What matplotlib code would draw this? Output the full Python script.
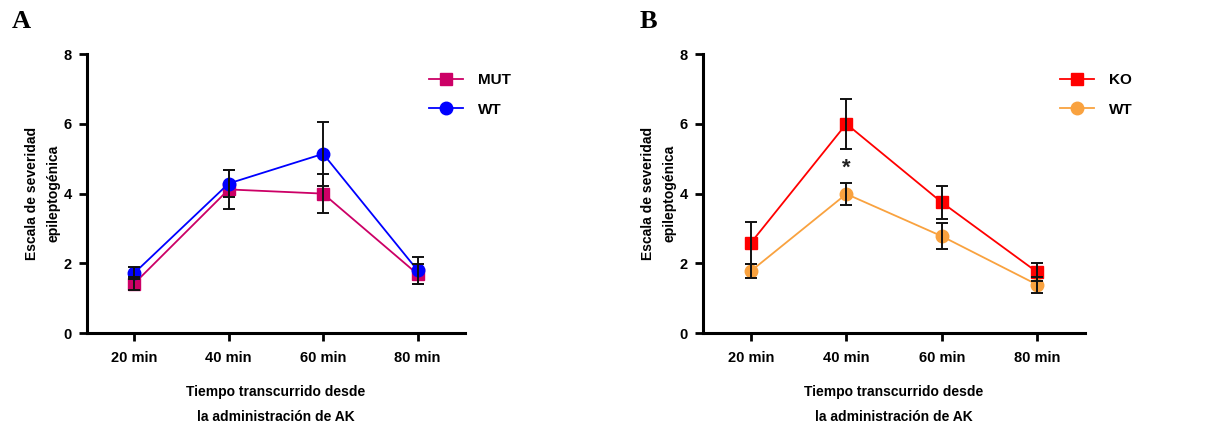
import matplotlib
matplotlib.use("Agg")
import matplotlib.pyplot as plt
import numpy as np

# ---- data ----
categories = ["20 min", "40 min", "60 min", "80 min"]

mut_mean = [1.42, 4.12, 4.00, 1.69]
mut_sem = [0.18, 0.55, 0.57, 0.28]
wtA_mean = [1.72, 4.29, 5.14, 1.80]
wtA_sem = [0.17, 0.40, 0.92, 0.38]

ko_mean = [2.59, 6.00, 3.75, 1.75]
ko_sem = [0.60, 0.71, 0.47, 0.25]
wtB_mean = [1.78, 3.99, 2.78, 1.39]
wtB_sem = [0.20, 0.32, 0.37, 0.23]

star_pos = (1, 4.72)

plt.rcParams["font.family"] = ["Liberation Sans", "DejaVu Sans"]
plt.rcParams["font.weight"] = "bold"

fig = plt.figure(figsize=(12.23, 4.26), dpi=100)
axA = fig.add_axes([0.0711, 0.218, 0.309, 0.655])
axB = fig.add_axes([0.575, 0.218, 0.312, 0.655])

x = np.arange(len(categories))


def draw_series(ax, mean, sem, color, marker, ms, label):
    ax.plot(x, mean, color=color, lw=1.3, marker=marker, ms=ms,
            markeredgecolor=color, label=label, zorder=3)
    ax.errorbar(x, mean, yerr=sem, fmt="none", ecolor="#111111",
                elinewidth=1.4, capsize=4, capthick=1.4, zorder=4)


def style_axes(ax):
    ax.set_xlim(-0.5, 3.5)
    ax.set_ylim(0, 8)
    ax.set_yticks([0, 2, 4, 6, 8])
    ax.set_xticks(x)
    ax.set_xticklabels(categories)
    for s in ["top", "right"]:
        ax.spines[s].set_visible(False)
    for s in ["left", "bottom"]:
        ax.spines[s].set_linewidth(2.2)
    ax.tick_params(axis="both", width=2.0, length=6, labelsize=10.5, pad=5)
    ax.tick_params(axis="x", pad=7)
    ax.set_ylabel("Escala de severidad\nepileptogénica", fontsize=10,
                  fontweight="bold", labelpad=2, linespacing=1.7)
    ax.set_xlabel("Tiempo transcurrido desde\nla administración de AK",
                  fontsize=10, fontweight="bold", labelpad=14, linespacing=2.0)
    for lab in ax.get_xticklabels() + ax.get_yticklabels():
        lab.set_fontweight("bold")


draw_series(axA, mut_mean, mut_sem, "#CC0066", "s", 8, "MUT")
draw_series(axA, wtA_mean, wtA_sem, "#0000FF", "o", 9, "WT")
draw_series(axB, ko_mean, ko_sem, "#FF0000", "s", 8, "KO")
draw_series(axB, wtB_mean, wtB_sem, "#F9A23F", "o", 9, "WT")

style_axes(axA)
style_axes(axB)

axB.text(star_pos[0], star_pos[1], "*", ha="center", va="center",
         fontsize=16, fontweight="bold", color="#222222")

for ax, anchor in [(axA, (0.87, 0.98)), (axB, (0.90, 0.98))]:
    leg = ax.legend(loc="upper left", bbox_to_anchor=anchor, frameon=False,
                    fontsize=11, handlelength=2.2, labelspacing=1.0,
                    handletextpad=1.0)
    for t in leg.get_texts():
        t.set_fontweight("bold")

fig.text(0.010, 0.935, "A", fontsize=19, fontweight="bold",
         family=["Liberation Serif", "DejaVu Serif"])
fig.text(0.523, 0.935, "B", fontsize=19, fontweight="bold",
         family=["Liberation Serif", "DejaVu Serif"])

fig.savefig("out.png", dpi=100)
